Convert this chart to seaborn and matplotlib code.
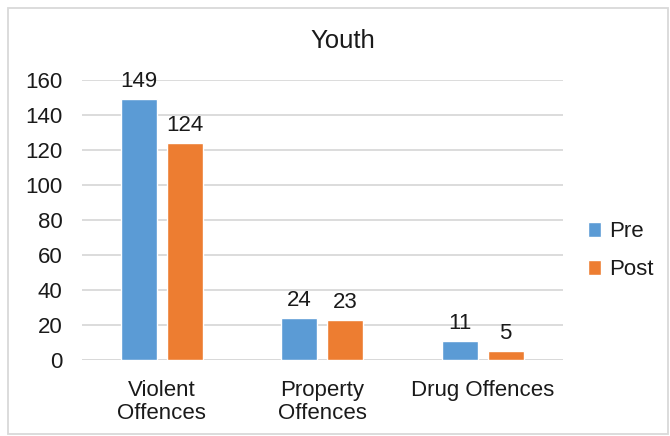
import matplotlib
matplotlib.use("Agg")
import matplotlib.pyplot as plt
import seaborn as sns
import pandas as pd
from matplotlib.patches import Rectangle

categories = ["Violent\nOffences", "Property\nOffences", "Drug Offences"]
pre_values = [149, 24, 11]
post_values = [124, 23, 5]
series_names = ["Pre", "Post"]
y_ticks = [0, 20, 40, 60, 80, 100, 120, 140, 160]

df = pd.DataFrame({
    "category": categories * 2,
    "value": pre_values + post_values,
    "series": [series_names[0]] * 3 + [series_names[1]] * 3,
})

sns.set_theme(style="white")
plt.rcParams["font.family"] = ["Liberation Sans", "DejaVu Sans"]

TEXT = "#1a1a1a"
GRID = "#D9D9D9"

fig = plt.figure(figsize=(6.7, 4.36), dpi=100)
ax = fig.add_axes([0.122, 0.174, 0.718, 0.643])

palette = {"Pre": "#5B9BD5", "Post": "#ED7D31"}
sns.barplot(data=df, x="category", y="value", hue="series", palette=palette,
            width=0.575, gap=0.22, ax=ax, saturation=1, legend=True)

ax.set_ylim(0, 160)
ax.set_yticks(y_ticks)
ax.set_xlim(-0.5, 2.5)
ax.yaxis.grid(True, color=GRID, linewidth=1.3)
ax.set_axisbelow(True)
for s in ["top", "right", "left", "bottom"]:
    ax.spines[s].set_visible(False)
ax.axhline(0, color=GRID, linewidth=1.3, zorder=0.5)
ax.set_xlabel("")
ax.set_ylabel("")
ax.tick_params(axis="both", length=0, labelsize=16, colors=TEXT)
ax.tick_params(axis="y", pad=14)
ax.tick_params(axis="x", pad=14)
for lbl in ax.get_xticklabels():
    lbl.set_linespacing(1.15)

for container in ax.containers:
    ax.bar_label(container, padding=5, fontsize=16, color=TEXT)

leg = ax.legend(loc="center left", bbox_to_anchor=(1.01, 0.39), frameon=False,
                fontsize=16, handlelength=0.62, handleheight=0.62,
                handletextpad=0.35, labelspacing=0.75)
for t in leg.get_texts():
    t.set_color(TEXT)

fig.text(0.511, 0.906, "Youth", ha="center", va="center", fontsize=18.5, color=TEXT)

fig.patches.append(Rectangle((8 / 670, 2 / 436), 660 / 670, 426 / 436,
                             transform=fig.transFigure, fill=False,
                             edgecolor=GRID, linewidth=1.3))

fig.savefig("out.png", dpi=100)
